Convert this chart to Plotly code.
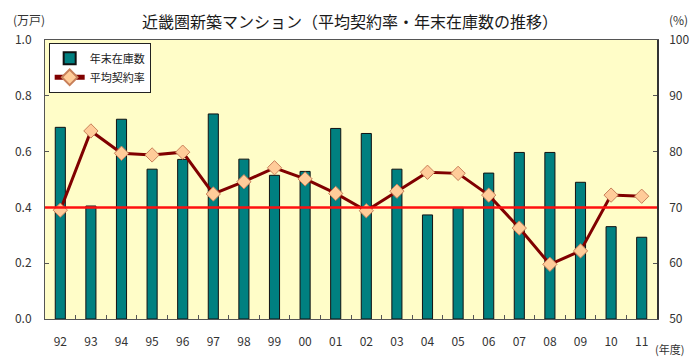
import plotly.graph_objects as go

years = ["92", "93", "94", "95", "96", "97", "98", "99", "00", "01",
         "02", "03", "04", "05", "06", "07", "08", "09", "10", "11"]
inventory = [0.687, 0.405, 0.716, 0.537, 0.572, 0.735, 0.573, 0.515, 0.529, 0.683,
             0.665, 0.537, 0.373, 0.400, 0.523, 0.597, 0.597, 0.490, 0.331, 0.293]
contract_rate = [69.5, 83.7, 79.7, 79.4, 79.9, 72.4, 74.6, 77.1, 75.1, 72.5,
                 69.4, 72.9, 76.3, 76.1, 72.2, 66.3, 59.8, 62.2, 72.2, 72.0]
reference_rate = 70

FONT = "Noto Sans CJK JP"
idx = list(range(len(years)))

fig = go.Figure()
fig.add_trace(go.Bar(
    x=idx, y=inventory, name="年末在庫数",
    marker=dict(color="#008080", line=dict(color="#111111", width=1)),
    width=0.33,
))
fig.add_trace(go.Scatter(
    x=idx, y=contract_rate, name="平均契約率", yaxis="y2",
    mode="lines+markers",
    line=dict(color="#800000", width=3),
    marker=dict(symbol="diamond", size=11, color="#FFCC99",
                line=dict(color="#C8805A", width=1)),
))

fig.add_shape(type="line", xref="paper", x0=0, x1=1, yref="y2",
              y0=reference_rate, y1=reference_rate,
              line=dict(color="#FF1010", width=2.5))

fig.update_layout(
    width=700, height=361,
    margin=dict(l=45, r=43, t=40, b=42),
    paper_bgcolor="white",
    plot_bgcolor="#FFFDC8",
    font=dict(family=FONT, size=12, color="#333333"),
    title=dict(text="近畿圏新築マンション（平均契約率・年末在庫数の推移）",
               x=0.5, xanchor="center", y=1 - 22 / 361, yanchor="middle",
               yref="container",
               font=dict(family=FONT, size=16, color="#1a1a1a")),
    showlegend=True,
    legend=dict(x=0.006, y=0.99, xanchor="left", yanchor="top",
                bgcolor="white", bordercolor="#222222", borderwidth=1,
                font=dict(family=FONT, size=11, color="#222222"),
                tracegroupgap=0, itemsizing="constant"),
    xaxis=dict(range=[-0.5, len(years) - 0.5], automargin=False,
               tickvals=idx, ticktext=years, ticks="",
               ticklabelstandoff=12,
               showline=True, linecolor="#555555", linewidth=1, mirror=True,
               showgrid=False, zeroline=False,
               tickfont=dict(size=12, color="#333333")),
    yaxis=dict(range=[0, 1], dtick=0.2, tickformat=".1f", automargin=False,
               ticks="inside", ticklen=4, tickcolor="#555555",
               ticklabelstandoff=10,
               showline=True, linecolor="#555555", linewidth=1,
               showgrid=False, zeroline=False,
               tickfont=dict(size=12, color="#333333")),
    yaxis2=dict(range=[50, 100], dtick=10, overlaying="y", side="right",
                automargin=False,
                ticks="inside", ticklen=4, tickcolor="#555555",
                ticklabelstandoff=8,
                showline=True, linecolor="#333333", linewidth=1.5,
                showgrid=False, zeroline=False,
                tickfont=dict(size=12, color="#333333")),
)

# minor ticks between categories
fig.update_xaxes(minor=dict(tickvals=[i + 0.5 for i in idx[:-1]],
                            ticks="inside", ticklen=4, tickcolor="#555555"))

fig.add_annotation(text="(万戸)", xref="paper", yref="paper", x=0, y=1,
                   xshift=-34, yshift=10, xanchor="left", yanchor="bottom",
                   showarrow=False, font=dict(size=12, color="#333333"))
fig.add_annotation(text="(%)", xref="paper", yref="paper", x=1, y=1,
                   xshift=10, yshift=10, xanchor="left", yanchor="bottom",
                   showarrow=False, font=dict(size=12, color="#333333"))
fig.add_annotation(text="(年度)", xref="paper", yref="paper", x=1, y=0,
                   xshift=-4, yshift=-40, xanchor="left", yanchor="bottom",
                   showarrow=False, font=dict(size=11, color="#333333"))

fig.write_html("out.html",
               config={"displayModeBar": False},
               post_script="document.body.style.margin='0';"
                           "document.body.style.overflow='hidden';")
